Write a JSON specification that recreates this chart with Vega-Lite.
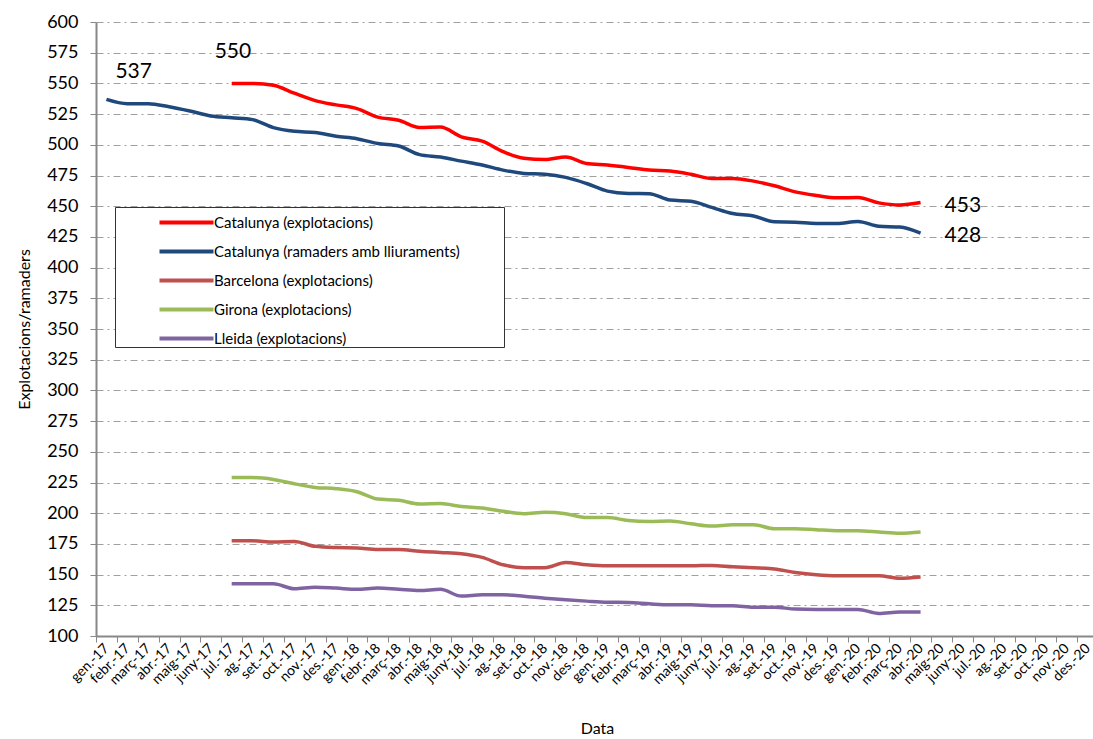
{
  "$schema": "https://vega.github.io/schema/vega-lite/v6.json",
  "autosize": {"type": "none"},
  "padding": {"left": 96, "top": 22, "right": 0, "bottom": 103},
  "width": 997,
  "height": 614,
  "background": "white",
  "config": {
    "font": "Lato",
    "view": {"stroke": null},
    "axis": {"labelFont": "Lato", "titleFont": "Lato", "labelColor": "#000", "titleColor": "#000", "titleFontWeight": "normal"}
  },
  "data": {
    "values": [
      {"mes": "gen.-17", "Catalunya (ramaders amb lliuraments)": 537, "Catalunya (explotacions)": null, "Barcelona (explotacions)": null, "Girona (explotacions)": null, "Lleida (explotacions)": null},
      {"mes": "febr.-17", "Catalunya (ramaders amb lliuraments)": 533.5, "Catalunya (explotacions)": null, "Barcelona (explotacions)": null, "Girona (explotacions)": null, "Lleida (explotacions)": null},
      {"mes": "març-17", "Catalunya (ramaders amb lliuraments)": 533.5, "Catalunya (explotacions)": null, "Barcelona (explotacions)": null, "Girona (explotacions)": null, "Lleida (explotacions)": null},
      {"mes": "abr.-17", "Catalunya (ramaders amb lliuraments)": 531, "Catalunya (explotacions)": null, "Barcelona (explotacions)": null, "Girona (explotacions)": null, "Lleida (explotacions)": null},
      {"mes": "maig-17", "Catalunya (ramaders amb lliuraments)": 527.5, "Catalunya (explotacions)": null, "Barcelona (explotacions)": null, "Girona (explotacions)": null, "Lleida (explotacions)": null},
      {"mes": "juny-17", "Catalunya (ramaders amb lliuraments)": 523.5, "Catalunya (explotacions)": null, "Barcelona (explotacions)": null, "Girona (explotacions)": null, "Lleida (explotacions)": null},
      {"mes": "jul.-17", "Catalunya (ramaders amb lliuraments)": 522, "Catalunya (explotacions)": 550, "Barcelona (explotacions)": 177.5, "Girona (explotacions)": 229, "Lleida (explotacions)": 142.5},
      {"mes": "ag.-17", "Catalunya (ramaders amb lliuraments)": 520.5, "Catalunya (explotacions)": 550, "Barcelona (explotacions)": 177.5, "Girona (explotacions)": 229, "Lleida (explotacions)": 142.5},
      {"mes": "set.-17", "Catalunya (ramaders amb lliuraments)": 514, "Catalunya (explotacions)": 548.5, "Barcelona (explotacions)": 176.5, "Girona (explotacions)": 227.5, "Lleida (explotacions)": 142.5},
      {"mes": "oct.-17", "Catalunya (ramaders amb lliuraments)": 511, "Catalunya (explotacions)": 542, "Barcelona (explotacions)": 177, "Girona (explotacions)": 224, "Lleida (explotacions)": 138.5},
      {"mes": "nov.-17", "Catalunya (ramaders amb lliuraments)": 510, "Catalunya (explotacions)": 536, "Barcelona (explotacions)": 173, "Girona (explotacions)": 221, "Lleida (explotacions)": 139.8},
      {"mes": "des.-17", "Catalunya (ramaders amb lliuraments)": 507, "Catalunya (explotacions)": 532.5, "Barcelona (explotacions)": 172, "Girona (explotacions)": 220, "Lleida (explotacions)": 139},
      {"mes": "gen.-18", "Catalunya (ramaders amb lliuraments)": 505, "Catalunya (explotacions)": 529.5, "Barcelona (explotacions)": 171.7, "Girona (explotacions)": 217.5, "Lleida (explotacions)": 138},
      {"mes": "febr.-18", "Catalunya (ramaders amb lliuraments)": 501, "Catalunya (explotacions)": 522.5, "Barcelona (explotacions)": 170.5, "Girona (explotacions)": 211.5, "Lleida (explotacions)": 139},
      {"mes": "març-18", "Catalunya (ramaders amb lliuraments)": 499, "Catalunya (explotacions)": 520, "Barcelona (explotacions)": 170.5, "Girona (explotacions)": 210.5, "Lleida (explotacions)": 138},
      {"mes": "abr.-18", "Catalunya (ramaders amb lliuraments)": 492, "Catalunya (explotacions)": 514, "Barcelona (explotacions)": 169, "Girona (explotacions)": 207.5, "Lleida (explotacions)": 137},
      {"mes": "maig-18", "Catalunya (ramaders amb lliuraments)": 490, "Catalunya (explotacions)": 514.5, "Barcelona (explotacions)": 168, "Girona (explotacions)": 207.8, "Lleida (explotacions)": 138},
      {"mes": "juny-18", "Catalunya (ramaders amb lliuraments)": 486.7, "Catalunya (explotacions)": 506.5, "Barcelona (explotacions)": 167, "Girona (explotacions)": 205.5, "Lleida (explotacions)": 132.5},
      {"mes": "jul.-18", "Catalunya (ramaders amb lliuraments)": 483.5, "Catalunya (explotacions)": 503, "Barcelona (explotacions)": 164, "Girona (explotacions)": 204.2, "Lleida (explotacions)": 133.5},
      {"mes": "ag.-18", "Catalunya (ramaders amb lliuraments)": 479.4, "Catalunya (explotacions)": 494.5, "Barcelona (explotacions)": 158, "Girona (explotacions)": 201.5, "Lleida (explotacions)": 133.5},
      {"mes": "set.-18", "Catalunya (ramaders amb lliuraments)": 476.7, "Catalunya (explotacions)": 489, "Barcelona (explotacions)": 155.6, "Girona (explotacions)": 199.6, "Lleida (explotacions)": 132.4},
      {"mes": "oct.-18", "Catalunya (ramaders amb lliuraments)": 476, "Catalunya (explotacions)": 488, "Barcelona (explotacions)": 155.6, "Girona (explotacions)": 200.7, "Lleida (explotacions)": 130.8},
      {"mes": "nov.-18", "Catalunya (ramaders amb lliuraments)": 473.5, "Catalunya (explotacions)": 490, "Barcelona (explotacions)": 159.8, "Girona (explotacions)": 199.6, "Lleida (explotacions)": 129.5},
      {"mes": "des.-18", "Catalunya (ramaders amb lliuraments)": 468.5, "Catalunya (explotacions)": 484.8, "Barcelona (explotacions)": 158, "Girona (explotacions)": 196.4, "Lleida (explotacions)": 128.4},
      {"mes": "gen.-19", "Catalunya (ramaders amb lliuraments)": 462.3, "Catalunya (explotacions)": 483.5, "Barcelona (explotacions)": 157.2, "Girona (explotacions)": 196.4, "Lleida (explotacions)": 127.5},
      {"mes": "febr.-19", "Catalunya (ramaders amb lliuraments)": 460.4, "Catalunya (explotacions)": 481.6, "Barcelona (explotacions)": 157.2, "Girona (explotacions)": 194.1, "Lleida (explotacions)": 127.3},
      {"mes": "març-19", "Catalunya (ramaders amb lliuraments)": 460.2, "Catalunya (explotacions)": 479.4, "Barcelona (explotacions)": 157.2, "Girona (explotacions)": 193.3, "Lleida (explotacions)": 126.2},
      {"mes": "abr.-19", "Catalunya (ramaders amb lliuraments)": 455, "Catalunya (explotacions)": 478.6, "Barcelona (explotacions)": 157.2, "Girona (explotacions)": 193.6, "Lleida (explotacions)": 125.4},
      {"mes": "maig-19", "Catalunya (ramaders amb lliuraments)": 454, "Catalunya (explotacions)": 476, "Barcelona (explotacions)": 157.2, "Girona (explotacions)": 191.4, "Lleida (explotacions)": 125.4},
      {"mes": "juny-19", "Catalunya (ramaders amb lliuraments)": 449, "Catalunya (explotacions)": 472.6, "Barcelona (explotacions)": 157.5, "Girona (explotacions)": 189.5, "Lleida (explotacions)": 124.6},
      {"mes": "jul.-19", "Catalunya (ramaders amb lliuraments)": 444, "Catalunya (explotacions)": 472.6, "Barcelona (explotacions)": 156.4, "Girona (explotacions)": 190.6, "Lleida (explotacions)": 124.6},
      {"mes": "ag.-19", "Catalunya (ramaders amb lliuraments)": 442, "Catalunya (explotacions)": 470.4, "Barcelona (explotacions)": 155.6, "Girona (explotacions)": 190.6, "Lleida (explotacions)": 123.5},
      {"mes": "set.-19", "Catalunya (ramaders amb lliuraments)": 437.3, "Catalunya (explotacions)": 466.6, "Barcelona (explotacions)": 154.6, "Girona (explotacions)": 187.4, "Lleida (explotacions)": 123.5},
      {"mes": "oct.-19", "Catalunya (ramaders amb lliuraments)": 437, "Catalunya (explotacions)": 461.7, "Barcelona (explotacions)": 151.7, "Girona (explotacions)": 187.4, "Lleida (explotacions)": 121.9},
      {"mes": "nov.-19", "Catalunya (ramaders amb lliuraments)": 436, "Catalunya (explotacions)": 458.8, "Barcelona (explotacions)": 149.8, "Girona (explotacions)": 186.6, "Lleida (explotacions)": 121.6},
      {"mes": "des.-19", "Catalunya (ramaders amb lliuraments)": 436, "Catalunya (explotacions)": 456.8, "Barcelona (explotacions)": 149, "Girona (explotacions)": 185.8, "Lleida (explotacions)": 121.6},
      {"mes": "gen.-20", "Catalunya (ramaders amb lliuraments)": 437.6, "Catalunya (explotacions)": 457, "Barcelona (explotacions)": 149, "Girona (explotacions)": 185.8, "Lleida (explotacions)": 121.6},
      {"mes": "febr.-20", "Catalunya (ramaders amb lliuraments)": 433.7, "Catalunya (explotacions)": 452.7, "Barcelona (explotacions)": 149, "Girona (explotacions)": 184.7, "Lleida (explotacions)": 118.4},
      {"mes": "març-20", "Catalunya (ramaders amb lliuraments)": 433, "Catalunya (explotacions)": 451, "Barcelona (explotacions)": 147, "Girona (explotacions)": 183.6, "Lleida (explotacions)": 119.5},
      {"mes": "abr.-20", "Catalunya (ramaders amb lliuraments)": 428, "Catalunya (explotacions)": 453, "Barcelona (explotacions)": 148, "Girona (explotacions)": 184.7, "Lleida (explotacions)": 119.5}
    ]
  },
  "transform": [
    {"fold": ["Catalunya (explotacions)", "Catalunya (ramaders amb lliuraments)", "Barcelona (explotacions)", "Girona (explotacions)", "Lleida (explotacions)"], "as": ["serie", "valor"]},
    {"filter": "isValid(datum.valor)"}
  ],
  "encoding": {
    "x": {
      "field": "mes",
      "type": "nominal",
      "sort": null,
      "bandPosition": 0.5,
      "scale": {
        "type": "band",
        "paddingInner": 0,
        "paddingOuter": 0,
        "range": [0, 1002],
        "domain": ["gen.-17","febr.-17","març-17","abr.-17","maig-17","juny-17","jul.-17","ag.-17","set.-17","oct.-17","nov.-17","des.-17","gen.-18","febr.-18","març-18","abr.-18","maig-18","juny-18","jul.-18","ag.-18","set.-18","oct.-18","nov.-18","des.-18","gen.-19","febr.-19","març-19","abr.-19","maig-19","juny-19","jul.-19","ag.-19","set.-19","oct.-19","nov.-19","des.-19","gen.-20","febr.-20","març-20","abr.-20","maig-20","juny-20","jul.-20","ag.-20","set.-20","oct.-20","nov.-20","des.-20"]
      },
      "axis": {
        "title": "Data",
        "titleFontSize": 16,
        "titlePadding": 33,
        "labelAngle": -45,
        "labelAlign": "right",
        "labelBaseline": "middle",
        "labelFontSize": 14,
        "labelPadding": 4,
        "tickBand": "extent",
        "tickSize": 6,
        "tickColor": "#888",
        "domainColor": "#888",
        "domainWidth": 2,
        "grid": false
      }
    },
    "y": {
      "field": "valor",
      "type": "quantitative",
      "scale": {"domain": [100, 600], "nice": false, "zero": false},
      "axis": {
        "title": "Explotacions/ramaders",
        "titleFontSize": 16,
        "titlePadding": 14,
        "values": [100,125,150,175,200,225,250,275,300,325,350,375,400,425,450,475,500,525,550,575,600],
        "labelFontSize": 18,
        "labelPadding": 12,
        "tickSize": 6,
        "tickColor": "#888",
        "domainColor": "#888",
        "domainWidth": 2,
        "grid": true,
        "gridColor": "#A0A0A0",
        "gridDash": [7, 4, 2, 4],
        "gridWidth": 1
      }
    }
  },
  "layer": [
    {
      "mark": {"type": "line", "interpolate": "monotone", "strokeWidth": 3.5},
      "encoding": {
        "color": {
          "field": "serie",
          "type": "nominal",
          "scale": {
            "domain": ["Catalunya (explotacions)", "Catalunya (ramaders amb lliuraments)", "Barcelona (explotacions)", "Girona (explotacions)", "Lleida (explotacions)"],
            "range": ["#FF0000", "#1F497D", "#C0504D", "#9BBB59", "#8064A2"]
          },
          "legend": {
            "title": "\u2800",
            "titleOrient": "right",
            "titleFontSize": 2,
            "titlePadding": 43,
            "orient": "none",
            "legendX": 19,
            "legendY": 185,
            "symbolType": "M-2,0H2",
            "symbolSize": 729,
            "symbolStrokeWidth": 4,
            "labelFont": "Lato",
            "labelFontSize": 15,
            "labelLimit": 600,
            "labelColor": "#000",
            "strokeColor": "#333",
            "fillColor": "#fff",
            "padding": 0,
            "symbolOffset": 56,
            "labelOffset": 12,
            "rowPadding": 5
          }
        }
      }
    },
    {
      "transform": [{"filter": "datum.serie == 'Catalunya (ramaders amb lliuraments)' && datum.mes == 'gen.-17'"}],
      "mark": {"type": "text", "fontSize": 21, "align": "left", "baseline": "middle", "dx": 9, "dy": -27, "color": "#000"},
      "encoding": {"text": {"field": "valor", "type": "quantitative", "format": ".0f"}}
    },
    {
      "transform": [{"filter": "datum.serie == 'Catalunya (explotacions)' && datum.mes == 'jul.-17'"}],
      "mark": {"type": "text", "fontSize": 21, "align": "left", "baseline": "middle", "dx": -17, "dy": -31, "color": "#000"},
      "encoding": {"text": {"field": "valor", "type": "quantitative", "format": ".0f"}}
    },
    {
      "transform": [{"filter": "(datum.serie == 'Catalunya (explotacions)' || datum.serie == 'Catalunya (ramaders amb lliuraments)') && datum.mes == 'abr.-20'"}],
      "mark": {"type": "text", "fontSize": 21, "align": "left", "baseline": "middle", "dx": 24, "dy": 3, "color": "#000"},
      "encoding": {"text": {"field": "valor", "type": "quantitative", "format": ".0f"}}
    }
  ]
}
